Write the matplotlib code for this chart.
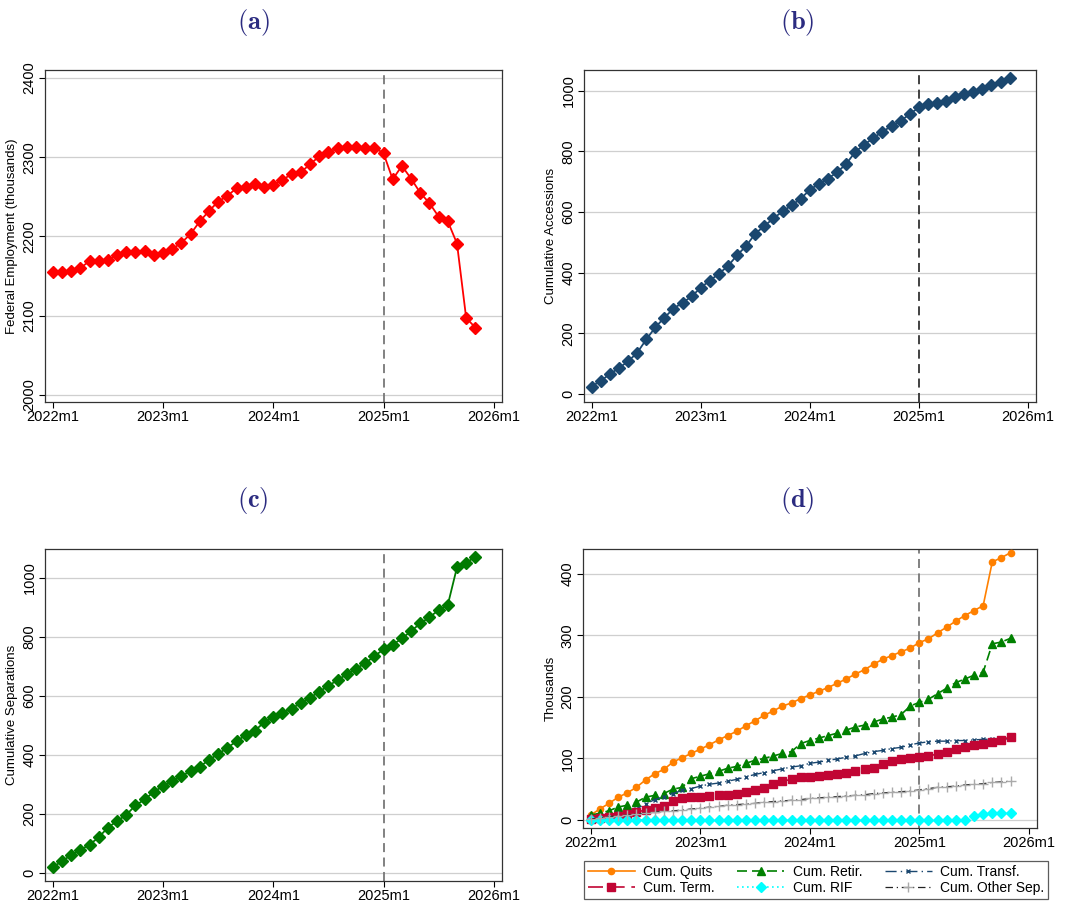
"""Federal employment, accessions and separations, 2022m1-2025m11 (four-panel figure)."""
import numpy as np
import matplotlib; matplotlib.use("Agg")
import matplotlib.pyplot as plt

plt.rcParams["font.family"] = ["Liberation Sans", "DejaVu Sans"]
plt.rcParams["mathtext.fontset"] = "cm"

# monthly data, 2022m1 .. 2025m11 (thousands)
employment = [2155, 2155, 2156, 2160, 2169, 2169, 2170, 2177, 2180, 2180, 2182, 2177,
              2179, 2184, 2192, 2203, 2219, 2232, 2244, 2251, 2261, 2262, 2266, 2262,
              2265, 2271, 2279, 2281, 2291, 2301, 2307, 2311, 2313, 2313, 2311, 2312,
              2305, 2272, 2289, 2273, 2255, 2242, 2225, 2219, 2191, 2097, 2085]
accessions = [25, 44, 66, 86, 108, 136, 180, 220, 252, 282, 301, 322,
              351, 374, 397, 422, 458, 488, 529, 554, 579, 602, 622, 644,
              673, 693, 710, 731, 758, 798, 822, 844, 865, 883, 901, 922,
              945, 955, 960, 967, 978, 989, 997, 1005, 1020, 1028, 1042]
separations = [20, 40, 61, 78, 96, 121, 154, 176, 197, 229, 249, 275,
               294, 310, 328, 345, 360, 383, 403, 424, 446, 467, 482, 510,
               528, 542, 557, 575, 593, 614, 634, 653, 673, 692, 710, 734,
               757, 773, 794, 819, 845, 866, 890, 908, 1035, 1050, 1071]
quits = [8, 18, 27, 37, 44, 53, 65, 75, 82, 94, 101, 108,
         115, 122, 130, 137, 144, 153, 161, 170, 177, 185, 190, 197,
         203, 209, 215, 222, 229, 237, 244, 253, 261, 267, 273, 279,
         288, 294, 304, 313, 323, 332, 340, 348, 419, 426, 434]
retir = [8, 11, 15, 21, 24, 29, 37, 40, 43, 50, 53, 67,
         71, 75, 79, 84, 87, 92, 97, 100, 104, 108, 111, 124,
         129, 133, 137, 141, 146, 151, 154, 159, 164, 167, 171, 185,
         191, 196, 205, 214, 223, 229, 235, 240, 286, 289, 295]
transf = [2, 4, 7, 11, 13, 18, 26, 33, 38, 43, 48, 51,
          55, 58, 60, 63, 66, 70, 74, 77, 80, 83, 86, 88,
          92, 94, 97, 99, 102, 104, 108, 111, 113, 116, 118, 122,
          125, 127, 128, 128, 129, 129, 130, 131, 131, 131, 132]
term = [2, 3, 5, 7, 10, 13, 16, 20, 23, 31, 36, 37,
        38, 39, 40, 41, 43, 46, 49, 52, 58, 63, 66, 69,
        70, 71, 73, 74, 76, 79, 82, 85, 91, 96, 99, 100,
        102, 104, 107, 110, 115, 119, 121, 124, 127, 130, 135]
rif = [0] * 42 + [7, 9, 11, 11, 12]
other = [2, 3, 5, 7, 8, 10, 11, 13, 14, 15, 16, 18,
         19, 21, 22, 24, 25, 26, 27, 29, 30, 31, 32, 33,
         35, 36, 37, 38, 39, 40, 41, 43, 44, 45, 46, 47,
         49, 51, 53, 54, 55, 57, 58, 59, 61, 62, 63]

tick_pos = [0, 12, 24, 36, 48]
tick_lab = ["2022m1", "2023m1", "2024m1", "2025m1", "2026m1"]
event = 36  # 2025m1

W, H = 1066, 902
TITLE_C = "#2b2b80"


def rect(l, t, r, b):
    return [l / W, 1 - b / H, (r - l) / W, (b - t) / H]


def style(ax, yticks, ylim, ylabel, vcol="#777777"):
    x = np.arange(len(employment))
    ax.set_xlim(-0.85, 48.9)
    ax.set_xticks(tick_pos); ax.set_xticklabels(tick_lab, fontsize=10.5)
    ax.set_ylim(*ylim)
    ax.set_yticks(yticks)
    ax.set_yticklabels([str(v) for v in yticks], rotation=90, va="center", fontsize=10.5)
    ax.set_ylabel(ylabel, fontsize=9.5, labelpad=3)
    ax.grid(axis="y", color="#cfcfcf", lw=0.9)
    ax.set_axisbelow(True)
    ax.axvline(event, color=vcol, ls=(0, (5, 3)), lw=1.3, zorder=1)
    for s in ax.spines.values():
        s.set_color("#333333"); s.set_linewidth(0.9)
    ax.tick_params(length=4, width=0.8, pad=2)
    return x


fig = plt.figure(figsize=(W / 100, H / 100), dpi=100)

# (a)
ax = fig.add_axes(rect(45, 70, 502, 402))
x = style(ax, [2000, 2100, 2200, 2300, 2400], (1991, 2410), "Federal Employment (thousands)")
ax.plot(x, employment, color="#ff0000", lw=1.3, marker="D", ms=6.5, zorder=3)

# (b)
ax = fig.add_axes(rect(584, 70, 1036, 402))
x = style(ax, [0, 200, 400, 600, 800, 1000], (-26, 1068), "Cumulative Accessions", vcol="#333333")
ax.plot(x, accessions, color="#1a476f", lw=1.3, marker="D", ms=6.5, zorder=3)

# (c)
ax = fig.add_axes(rect(45, 549, 502, 881))
x = style(ax, [0, 200, 400, 600, 800, 1000], (-27, 1097), "Cumulative Separations")
ax.plot(x, separations, color="#007a00", lw=1.3, marker="D", ms=6.5, zorder=3)

# (d)
ax = fig.add_axes(rect(583, 549, 1037, 828))
x = style(ax, [0, 100, 200, 300, 400], (-13, 440), "Thousands")
hq, = ax.plot(x, quits, color="#ff8000", lw=1.2, marker="o", ms=4.5, label="Cum. Quits", zorder=3)
hr, = ax.plot(x, retir, color="#008000", lw=1.2, ls=(0, (6, 3)), marker="^", ms=6, label="Cum. Retir.", zorder=3)
ht, = ax.plot(x, transf, color="#1a476f", lw=1.0, ls=(0, (8, 3, 1, 3)), marker="x", ms=3,
              mew=1.0, label="Cum. Transf.", zorder=3)
hm, = ax.plot(x, term, color="#c10534", lw=1.2, ls=(0, (9, 4)), marker="s", ms=5.5, label="Cum. Term.", zorder=3)
hf, = ax.plot(x, rif, color="#00ffff", lw=1.2, ls=(0, (1, 2)), marker="D", ms=5, label="Cum. RIF", zorder=3)
ho, = ax.plot(x, other, color="#222222", lw=0.9, ls=(0, (6, 3, 1, 3)), marker="+", ms=7,
              mec="#aaaaaa", mew=1.0, label="Cum. Other Sep.", zorder=3)
leg = fig.legend([hq, hm, hr, hf, ht, ho],
                 [h.get_label() for h in [hq, hm, hr, hf, ht, ho]],
                 ncol=3, loc="center", bbox_to_anchor=(816 / W, 1 - 880 / H),
                 fontsize=10, frameon=True, fancybox=False, edgecolor="#333333",
                 handlelength=3.4, borderpad=0.3, labelspacing=0.15, columnspacing=1.6,
                 handletextpad=0.6, borderaxespad=0)
leg.get_frame().set_linewidth(0.9)

for lab, cx, cy in [("a", 253, 22), ("b", 797, 22), ("c", 253, 500), ("d", 797, 500)]:
    fig.text(cx / W, 1 - cy / H, r"$\mathbf{(%s)}$" % lab, ha="center", va="center",
             fontsize=19, color=TITLE_C)

fig.savefig("out.png", dpi=100)
